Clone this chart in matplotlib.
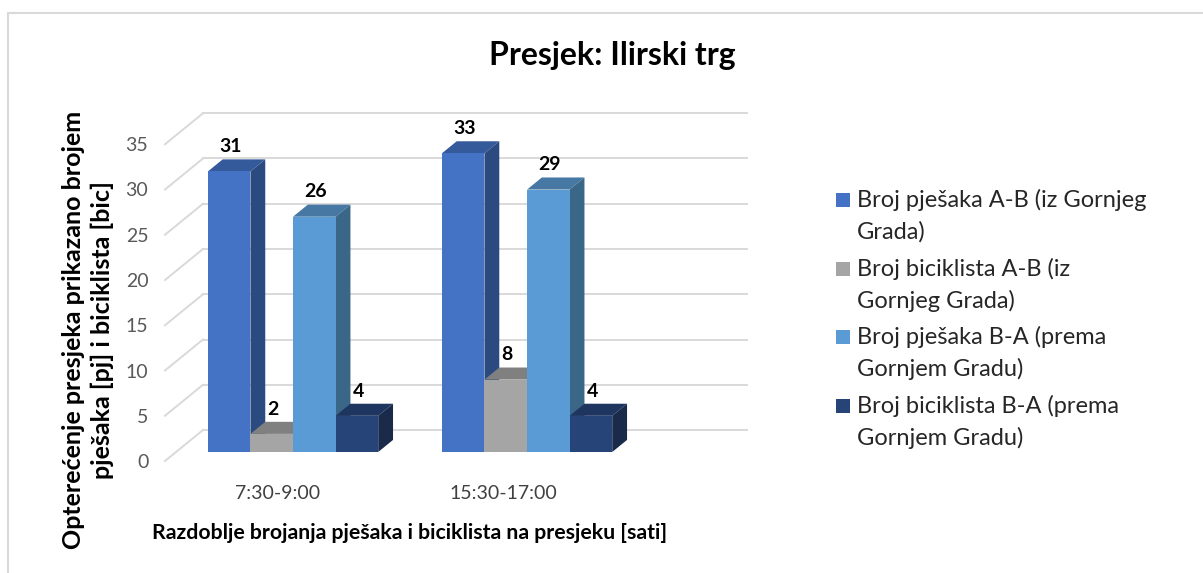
import matplotlib
matplotlib.use('Agg')
import matplotlib.pyplot as plt
from matplotlib.patches import Polygon, Rectangle

plt.rcParams['font.family'] = ['Lato', 'DejaVu Sans']

categories = ['7:30-9:00', '15:30-17:00']
series_names = ['Broj pješaka A-B (iz Gornjeg\nGrada)',
                'Broj biciklista A-B (iz\nGornjeg Grada)',
                'Broj pješaka B-A (prema\nGornjem Gradu)',
                'Broj biciklista B-A (prema\nGornjem Gradu)']
pjesaci_ab = [31, 33]
biciklisti_ab = [2, 8]
pjesaci_ba = [26, 29]
biciklisti_ba = [4, 4]
values = [pjesaci_ab, biciklisti_ab, pjesaci_ba, biciklisti_ba]
yticks = [0, 5, 10, 15, 20, 25, 30, 35]

# front / side / top colours per series
front_c = ['#4472C4', '#A5A5A5', '#5B9BD5', '#264478']
side_c = ['#2B4A80', '#8C8C8C', '#3A6688', '#1A2A4A']
top_c = ['#345A9B', '#808080', '#4778A4', '#1E3560']

W, H = 1203, 573
fig = plt.figure(figsize=(W / 100, H / 100), dpi=100)

# chart border (cut off on right and bottom)
fig.patches.append(Rectangle((8 / W, -0.1), 1.2, 1 - 13 / H + 0.1, transform=fig.transFigure,
                             fill=False, edgecolor='#D9D9D9', lw=1.5))

ax = fig.add_axes([165 / W, 1 - 461 / H, (747 - 165) / W, (461 - 100) / H])
x0, x1 = -0.5, 1.987
ax.set_xlim(x0, x1)
ax.set_ylim(0, 361 / 9.05)
for s in ax.spines.values():
    s.set_visible(False)

# oblique depth of the back wall, in data units
DX = 38 / 234
DY = 31 / 9.05
d0, d1 = 0.29, 0.68   # bar depth range
bw = 0.182

grid_c = '#D9D9D9'
for v in yticks:
    ax.plot([x0, x0 + DX], [v, v + DY], color=grid_c, lw=1.4, clip_on=False, zorder=1)
    ax.plot([x0 + DX, x1], [v + DY, v + DY], color=grid_c, lw=1.4, clip_on=False, zorder=1)

ax.set_yticks(yticks)
ax.set_yticklabels([str(v) for v in yticks], fontsize=14, color='#595959')
ax.tick_params(axis='y', length=0, pad=12)

ax.set_xticks([-0.017, 0.945])
ax.set_xticklabels(categories, fontsize=14, color='#404040')
ax.tick_params(axis='x', length=0, pad=17)

z = 2
for g in range(len(categories)):
    for i in range(4):
        v = values[i][g]
        xl = g - 2 * bw + i * bw + d0 * DX
        xr = xl + bw
        yb = d0 * DY
        yt = v + yb
        ddx = (d1 - d0) * DX
        ddy = (d1 - d0) * DY
        top = Polygon([(xl, yt), (xr, yt), (xr + ddx, yt + ddy), (xl + ddx, yt + ddy)],
                      closed=True, facecolor=top_c[i], edgecolor='none', zorder=z, clip_on=False)
        side = Polygon([(xr, yb), (xr + ddx, yb + ddy), (xr + ddx, yt + ddy), (xr, yt)],
                       closed=True, facecolor=side_c[i], edgecolor='none', zorder=z, clip_on=False)
        front = Rectangle((xl, yb), bw, v, facecolor=front_c[i], edgecolor='none',
                          zorder=z + 0.5, clip_on=False)
        ax.add_patch(top)
        ax.add_patch(side)
        ax.add_patch(front)
        ax.text(xl + bw / 2 + 0.006, yt + ddy + 1.4, str(v), ha='center', va='center',
                fontsize=14, fontweight='bold', color='black', zorder=10)
        z += 1

fig.text(612 / W, 1 - 56 / H, 'Presjek: Ilirski trg', ha='center', va='center',
         fontsize=23, fontweight='bold')
fig.text(410 / W, 1 - 533 / H, 'Razdoblje brojanja pješaka i biciklista na presjeku [sati]',
         ha='center', va='center', fontsize=15.3, fontweight='bold')
fig.text(88 / W, 1 - 330 / H, 'Opterećenje presjeka prikazano brojem\npješaka [pj] i biciklista [bic]',
         ha='center', va='center', rotation=90, fontsize=18, fontweight='bold',
         linespacing=1.3, multialignment='center')

# legend
for i, name in enumerate(series_names):
    ytop = 200 + i * 68.5
    fig.patches.append(Rectangle((836 / W, 1 - (ytop + 7) / H), 14 / W, 14 / H,
                                 transform=fig.transFigure, facecolor=front_c[i], edgecolor='none'))
    for k, line in enumerate(name.split('\n')):
        fig.text(857 / W, 1 - (ytop + k * 32) / H, line, ha='left', va='center',
                 fontsize=17, color='#262626')

fig.savefig('out.png', dpi=100, facecolor='white')
